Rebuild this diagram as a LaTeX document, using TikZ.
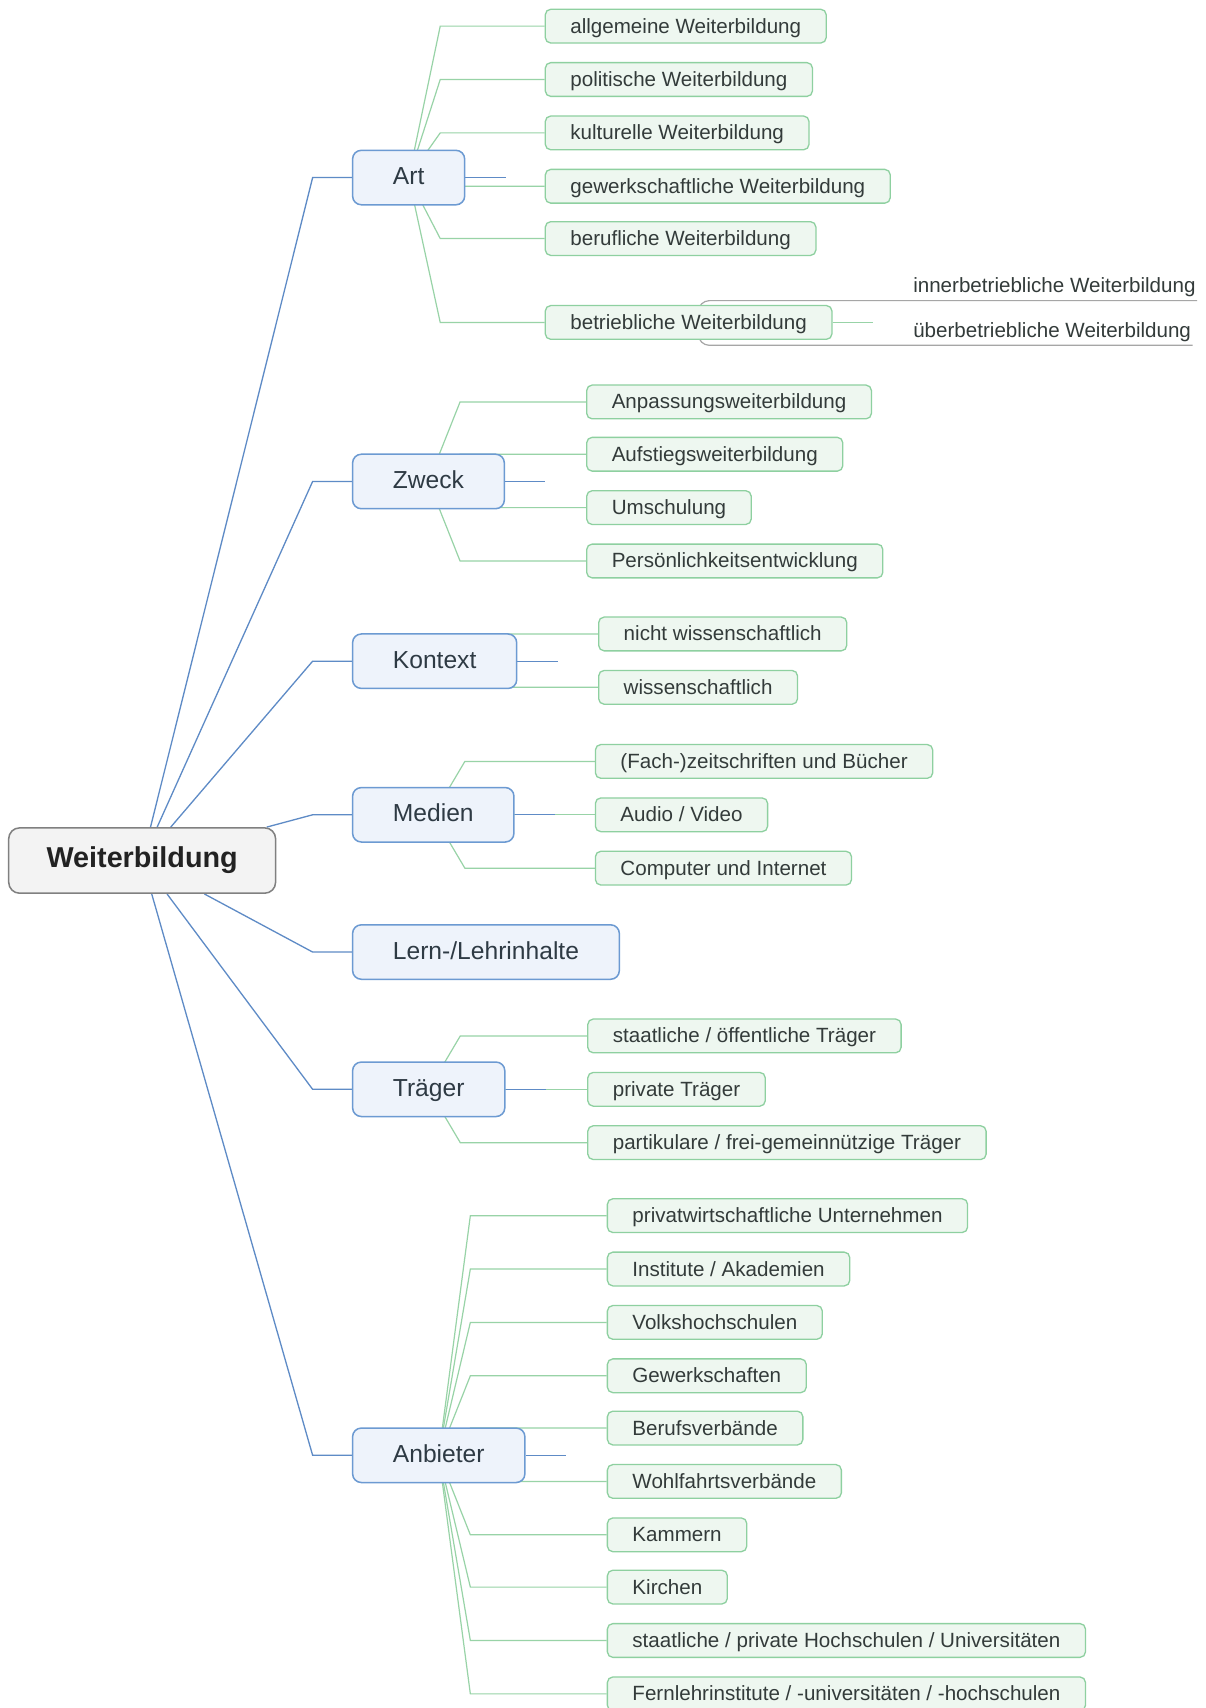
\documentclass[tikz,border=0pt]{standalone}
\usepackage{fontspec}
\setmainfont{Liberation Sans}
\usetikzlibrary{backgrounds}

\definecolor{blueline}{HTML}{5E8BC6}
\definecolor{topicdraw}{HTML}{6C9AD2}
\definecolor{topicfill}{HTML}{EEF3FB}
\definecolor{greenline}{HTML}{98D3A7}
\definecolor{leafdraw}{HTML}{8ED0A0}
\definecolor{leaffill}{HTML}{EEF7F0}
\definecolor{rootdraw}{HTML}{808080}
\definecolor{rootfill}{HTML}{F3F3F3}
\definecolor{grayline}{HTML}{A6A6A6}
\definecolor{roottext}{HTML}{222222}
\definecolor{topictext}{HTML}{2E3A44}
\definecolor{leaftext}{HTML}{333B3A}

\tikzset{
  rootbox/.style={draw=rootdraw, fill=rootfill, line width=0.7pt, rounded corners=5pt,
    minimum width=122.5pt, minimum height=30pt, text=roottext,
    text height=0.75em, text depth=0.11em,
    font=\fontsize{13.2}{15}\selectfont\bfseries},
  topicbox/.style={draw=topicdraw, fill=topicfill, line width=0.7pt, rounded corners=4pt,
    anchor=west, inner xsep=18.5pt, minimum height=25pt, text=topictext,
    text height=0.75em, text depth=0.11em,
    font=\fontsize{11.3}{13}\selectfont},
  leafbox/.style={draw=leafdraw, fill=leaffill, line width=0.6pt, rounded corners=2.5pt,
    anchor=west, inner xsep=11.5pt, minimum height=15.5pt, text=leaftext,
    text height=0.75em, text depth=0.11em,
    font=\fontsize{9.45}{11}\selectfont},
  subtext/.style={anchor=south west, inner xsep=0.5pt, inner ysep=1.5pt, text=leaftext,
    font=\fontsize{9.45}{11}\selectfont},
  bline/.style={draw=blueline, line width=0.6pt},
  gline/.style={draw=greenline, line width=0.55pt},
  sline/.style={draw=grayline, line width=0.55pt, rounded corners=5pt},
}

\begin{document}
\begin{tikzpicture}[x=0.5pt, y=-0.5pt]
    % Rahmen
    \useasboundingbox (0,0) rectangle (1107,1568);

    % Wurzel
    \node[rootbox] (root) at (130.5,790) {Weiterbildung};

    % Hauptäste
    \node[topicbox] (art) at (323,163) {Art};
    \node[topicbox] (zweck) at (323,442) {Zweck};
    \node[topicbox] (kontext) at (323,607) {Kontext};
    \node[topicbox] (medien) at (323,748) {Medien};
    \node[topicbox] (lern) at (323,874) {Lern-/Lehrinhalte};
    \node[topicbox] (traeger) at (323,1000) {Träger};
    \node[topicbox] (anbieter) at (323,1336) {Anbieter};

    % Art
    \node[leafbox] (a1) at (500,24) {allgemeine Weiterbildung};
    \node[leafbox] (a2) at (500,73) {politische Weiterbildung};
    \node[leafbox] (a3) at (500,122) {kulturelle Weiterbildung};
    \node[leafbox] (a4) at (500,171) {gewerkschaftliche Weiterbildung};
    \node[leafbox] (a5) at (500,219) {berufliche Weiterbildung};
    \node[leafbox] (a6) at (500,296) {betriebliche Weiterbildung};
    \node[subtext] (inner) at (837,276) {innerbetriebliche Weiterbildung};
    \node[subtext] (ueber) at (837,317) {überbetriebliche Weiterbildung};

    % Zweck
    \node[leafbox] (z1) at (538,369) {Anpassungsweiterbildung};
    \node[leafbox] (z2) at (538,417) {Aufstiegsweiterbildung};
    \node[leafbox] (z3) at (538,466) {Umschulung};
    \node[leafbox] (z4) at (538,515) {Persönlichkeitsentwicklung};

    % Kontext
    \node[leafbox] (k1) at (549,582) {nicht wissenschaftlich};
    \node[leafbox] (k2) at (549,631) {wissenschaftlich};

    % Medien
    \node[leafbox] (m1) at (546,699) {(Fach-)zeitschriften und Bücher};
    \node[leafbox] (m2) at (546,748) {Audio / Video};
    \node[leafbox] (m3) at (546,797) {Computer und Internet};

    % Träger
    \node[leafbox] (t1) at (539,951) {staatliche / öffentliche Träger};
    \node[leafbox] (t2) at (539,1000) {private Träger};
    \node[leafbox] (t3) at (539,1049) {partikulare / frei-gemeinnützige Träger};

    % Anbieter
    \node[leafbox] (p1) at (557,1116) {privatwirtschaftliche Unternehmen};
    \node[leafbox] (p2) at (557,1165) {Institute / Akademien};
    \node[leafbox] (p3) at (557,1214) {Volkshochschulen};
    \node[leafbox] (p4) at (557,1263) {Gewerkschaften};
    \node[leafbox] (p5) at (557,1311) {Berufsverbände};
    \node[leafbox] (p6) at (557,1360) {Wohlfahrtsverbände};
    \node[leafbox] (p7) at (557,1409) {Kammern};
    \node[leafbox] (p8) at (557,1457) {Kirchen};
    \node[leafbox] (p9) at (557,1506) {staatliche / private Hochschulen / Universitäten};
    \node[leafbox] (p10) at (557,1555) {Fernlehrinstitute / -universitäten / -hochschulen};

    % Verbindungen
    \begin{scope}[on background layer]
        \fill[white] (0,0) rectangle (1107,1568);

        % Wurzel zu Hauptästen
        \draw[bline] (root) -- ([xshift=-18pt]art.west) -- (art.west);
        \draw[bline] (root) -- ([xshift=-18pt]zweck.west) -- (zweck.west);
        \draw[bline] (root) -- ([xshift=-18pt]kontext.west) -- (kontext.west);
        \draw[bline] (root) -- ([xshift=-18pt]medien.west) -- (medien.west);
        \draw[bline] (root) -- ([xshift=-18pt]lern.west) -- (lern.west);
        \draw[bline] (root) -- ([xshift=-18pt]traeger.west) -- (traeger.west);
        \draw[bline] (root) -- ([xshift=-18pt]anbieter.west) -- (anbieter.west);

        % Art
        \draw[gline] (art.center) -- ([xshift=14.5pt]art.center |- a1.west) -- (a1.west);
        \draw[gline] (art.center) -- ([xshift=14.5pt]art.center |- a2.west) -- (a2.west);
        \draw[gline] (art.center) -- ([xshift=14.5pt]art.center |- a3.west) -- (a3.west);
        \draw[gline] (art.center) -- ([xshift=14.5pt]art.center |- a4.west) -- (a4.west);
        \draw[gline] (art.center) -- ([xshift=14.5pt]art.center |- a5.west) -- (a5.west);
        \draw[gline] (art.center) -- ([xshift=14.5pt]art.center |- a6.west) -- (a6.west);
        \draw[gline] (a6.east) -- ++(18.5pt,0);
        \draw[sline] ([xshift=4.5pt]a6.center) |- (inner.south east);
        \draw[sline] ([xshift=4.5pt]a6.center) |- (ueber.south east);

        % Zweck
        \draw[gline] (zweck.center) -- ([xshift=14.5pt]zweck.center |- z1.west) -- (z1.west);
        \draw[gline] (zweck.center) -- ([xshift=14.5pt]zweck.center |- z2.west) -- (z2.west);
        \draw[gline] (zweck.center) -- ([xshift=14.5pt]zweck.center |- z3.west) -- (z3.west);
        \draw[gline] (zweck.center) -- ([xshift=14.5pt]zweck.center |- z4.west) -- (z4.west);

        % Kontext
        \draw[gline] (kontext.center) -- ([xshift=14.5pt]kontext.center |- k1.west) -- (k1.west);
        \draw[gline] (kontext.center) -- ([xshift=14.5pt]kontext.center |- k2.west) -- (k2.west);

        % Medien
        \draw[gline] (medien.center) -- ([xshift=14.5pt]medien.center |- m1.west) -- (m1.west);
        \draw[gline] (medien.center) -- ([xshift=14.5pt]medien.center |- m2.west) -- (m2.west);
        \draw[gline] (medien.center) -- ([xshift=14.5pt]medien.center |- m3.west) -- (m3.west);

        % Träger
        \draw[gline] (traeger.center) -- ([xshift=14.5pt]traeger.center |- t1.west) -- (t1.west);
        \draw[gline] (traeger.center) -- ([xshift=14.5pt]traeger.center |- t2.west) -- (t2.west);
        \draw[gline] (traeger.center) -- ([xshift=14.5pt]traeger.center |- t3.west) -- (t3.west);

        % Anbieter
        \draw[gline] (anbieter.center) -- ([xshift=14.5pt]anbieter.center |- p1.west) -- (p1.west);
        \draw[gline] (anbieter.center) -- ([xshift=14.5pt]anbieter.center |- p2.west) -- (p2.west);
        \draw[gline] (anbieter.center) -- ([xshift=14.5pt]anbieter.center |- p3.west) -- (p3.west);
        \draw[gline] (anbieter.center) -- ([xshift=14.5pt]anbieter.center |- p4.west) -- (p4.west);
        \draw[gline] (anbieter.center) -- ([xshift=14.5pt]anbieter.center |- p5.west) -- (p5.west);
        \draw[gline] (anbieter.center) -- ([xshift=14.5pt]anbieter.center |- p6.west) -- (p6.west);
        \draw[gline] (anbieter.center) -- ([xshift=14.5pt]anbieter.center |- p7.west) -- (p7.west);
        \draw[gline] (anbieter.center) -- ([xshift=14.5pt]anbieter.center |- p8.west) -- (p8.west);
        \draw[gline] (anbieter.center) -- ([xshift=14.5pt]anbieter.center |- p9.west) -- (p9.west);
        \draw[gline] (anbieter.center) -- ([xshift=14.5pt]anbieter.center |- p10.west) -- (p10.west);

        % kurze Enden der Hauptäste
        \draw[bline] (art.east) -- ++(18.5pt,0);
        \draw[bline] (zweck.east) -- ++(18.5pt,0);
        \draw[bline] (kontext.east) -- ++(18.5pt,0);
        \draw[bline] (medien.east) -- ++(18.5pt,0);
        \draw[bline] (traeger.east) -- ++(18.5pt,0);
        \draw[bline] (anbieter.east) -- ++(18.5pt,0);
    \end{scope}
\end{tikzpicture}
\end{document}
